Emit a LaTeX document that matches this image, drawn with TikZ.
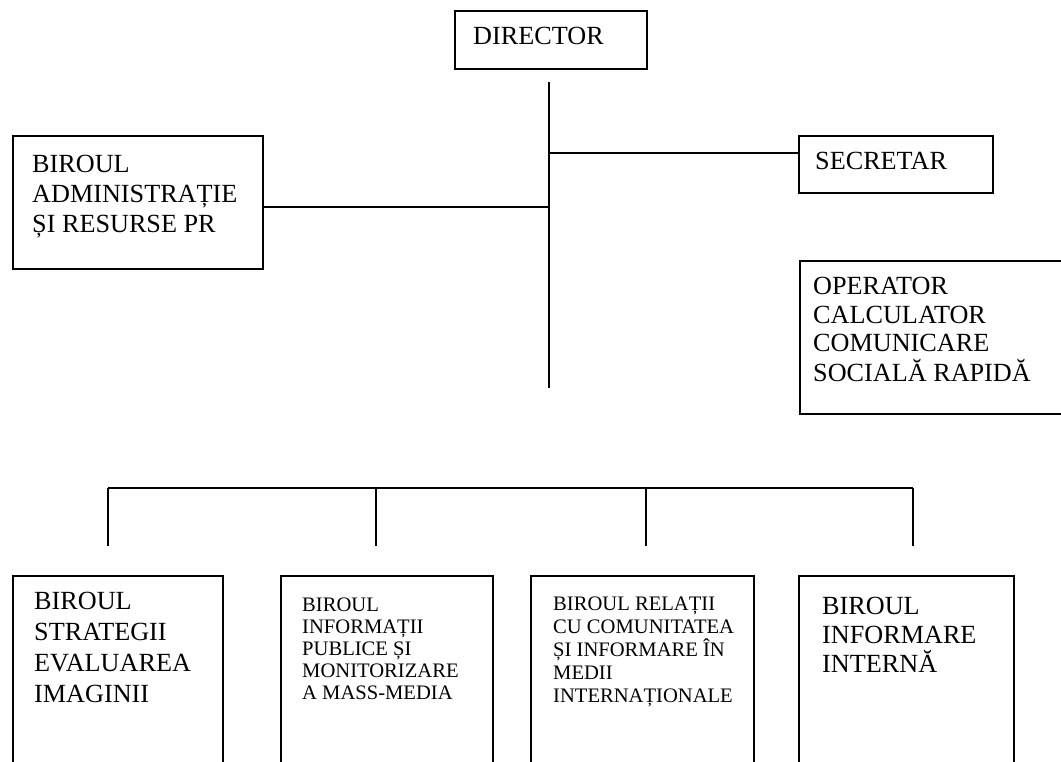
\documentclass[tikz,border=0pt]{standalone}
\usepackage{fontspec}
\setmainfont{Liberation Serif}
\begin{document}
\begin{tikzpicture}[x=1pt,y=-1pt,
  box/.style={draw, line width=2pt, rectangle, inner sep=0pt, anchor=north west},
  bigtxt/.style={anchor=base west, inner sep=0pt, align=left,
    font=\fontsize{26.2}{30}\selectfont},
  smalltxt/.style={anchor=base west, inner sep=0pt, align=left,
    font=\fontsize{20.6}{22}\selectfont},
  link/.style={line width=1.4pt}]
\useasboundingbox (0,0) rectangle (1061,762);

% boxes
\node[box, minimum width=192pt, minimum height=58pt] (dir) at (454,10) {};
\node[box, minimum width=250pt, minimum height=133pt] (adm) at (12,135) {};
\node[box, minimum width=194pt, minimum height=57pt] (sec) at (798,135) {};
\node[box, minimum width=280pt, minimum height=153pt] (op) at (799,260) {};
\node[box, minimum width=210pt, minimum height=240pt] (b1) at (12,575) {};
\node[box, minimum width=212pt, minimum height=240pt] (b2) at (280,575) {};
\node[box, minimum width=223pt, minimum height=240pt] (b3) at (530,575) {};
\node[box, minimum width=215pt, minimum height=240pt] (b4) at (798,575) {};

% texts (anchored on the baseline of their last line)
\node[bigtxt] (dirT) at (473,45) {DIRECTOR};
\node[bigtxt] (admT) at (32,233) {BIROUL\\ADMINISTRAȚIE\\ȘI RESURSE PR};
\node[bigtxt] (secT) at (815,170) {SECRETAR};
\node[bigtxt, font=\fontsize{26.2}{29}\selectfont] (opT) at (813,381)
  {OPERATOR\\CALCULATOR\\COMUNICARE\\SOCIALĂ RAPIDĂ};
\node[bigtxt, font=\fontsize{26.2}{30.7}\selectfont] (b1T) at (34,702)
  {BIROUL\\STRATEGII\\EVALUAREA\\IMAGINII};
\node[smalltxt] (b2T) at (302,699)
  {BIROUL\\INFORMAȚII\\PUBLICE ȘI\\MONITORIZARE\\A MASS-MEDIA};
\node[smalltxt, font=\fontsize{20.6}{23}\selectfont] (b3T) at (553,702)
  {BIROUL RELAȚII\\CU COMUNITATEA\\ȘI INFORMARE ÎN\\MEDII\\INTERNAȚIONALE};
\node[bigtxt, font=\fontsize{26.2}{29}\selectfont] (b4T) at (822,672)
  {BIROUL\\INFORMARE\\INTERNĂ};

% trunk and branches
\coordinate (trunkTop) at (549,82);
\coordinate (trunkBot) at (549,388);
\coordinate (jSec) at (549,153);
\coordinate (jAdm) at (549,207);
\draw[link] (trunkTop) -- (trunkBot);
\draw[link] (jSec) -- (jSec -| sec.west);
\draw[link] (adm.east |- jAdm) -- (jAdm);

% bus to the lower offices
\coordinate (busL) at (108,488);
\coordinate (busR) at (913,488);
\coordinate (d1) at (108,546);
\coordinate (d2) at (376,546);
\coordinate (d3) at (646,546);
\coordinate (d4) at (913,546);
\draw[link] (busL) -- (busR);
\foreach \d in {d1,d2,d3,d4}
  \draw[link] (\d |- busL) -- (\d);
\end{tikzpicture}
\end{document}
